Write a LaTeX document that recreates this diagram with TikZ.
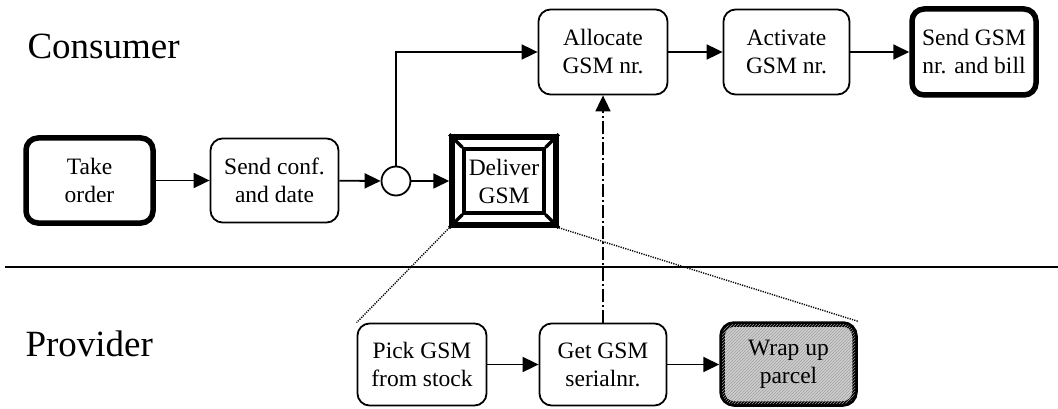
\documentclass[tikz,border=0pt]{standalone}
\usepackage{fontspec}
\setmainfont{Liberation Serif}
\usetikzlibrary{arrows.meta,patterns,positioning}
\begin{document}
\begin{tikzpicture}[x=1pt,y=-1pt,
  task/.style={draw,rounded corners=12pt,line width=1.8pt,align=center,
    font=\fontsize{23.5}{28}\selectfont,inner sep=0pt},
  bold task/.style={task,line width=5.5pt},
  tip/.style={-{Triangle[length=16pt,width=15pt]}},
  flow/.style={line width=1.8pt,tip},
  info/.style={line width=1.8pt,dash pattern=on 13pt off 3pt on 2pt off 3pt,tip},
  zoomline/.style={line width=1.4pt,dash pattern=on 1.2pt off 1.2pt},
  lane/.style={font=\fontsize{37}{40}\selectfont,anchor=west}]
\useasboundingbox (0,0) rectangle (1058,409);

% swimlane titles and separator
\node[lane] (consumer) at (24,46) {Consumer};
\node[lane] (provider) at (22,344) {Provider};
\coordinate (sepL) at (5,267);
\coordinate (sepR) at (1058,267);
\draw[line width=2.6pt] (sepL) -- (sepR);

% consumer lane
\node[bold task,minimum width=127pt,minimum height=85pt] (take) at (89.5,180.5) {Take\\order};
\node[task,minimum width=128pt,minimum height=84pt] (conf) at (274.5,180.5) {Send conf.\\and date};
\node[draw,circle,line width=1.8pt,minimum size=29pt,inner sep=0pt] (split) at (396,181) {};

% composite task with bevelled frame
\node[draw,line width=5.5pt,minimum width=104pt,minimum height=88pt,inner sep=0pt] (deliver) at (504,181) {};
\node[draw,line width=3.2pt,minimum width=80pt,minimum height=64pt,inner sep=0pt,align=center,
  font=\fontsize{23.5}{28}\selectfont] (deliverin) at (504,181) {Deliver\\GSM};
\foreach \c in {north west,north east,south west,south east}
  \draw[line width=3.2pt] (deliver.\c) -- (deliverin.\c);

\node[task,minimum width=129pt,minimum height=85pt] (alloc) at (603,52) {Allocate\\GSM nr.};
\node[task,minimum width=126pt,minimum height=85pt] (activ) at (786.5,52) {Activate\\GSM nr.};
\node[bold task,minimum width=124pt,minimum height=86pt] (bill) at (974,52) {Send GSM\\nr. and bill};

% provider lane
\node[task,minimum width=129pt,minimum height=82pt] (pick) at (422,364.5) {Pick GSM\\from stock};
\node[task,minimum width=127pt,minimum height=82pt] (serial) at (603,364.5) {Get GSM\\serialnr.};
\node[bold task,minimum width=133pt,minimum height=80pt,
  preaction={fill=gray!38},
  postaction={pattern=north east lines,pattern color=gray!75}] (wrap) at (788.5,364) {Wrap up\\parcel};

% sequence flow
\draw[flow] (take) -- (conf);
\draw[flow] (conf) -- (split);
\draw[flow] (split) -- (deliver);
\draw[flow] (split.north) |- (alloc.west);
\draw[flow] (alloc) -- (activ);
\draw[flow] (activ) -- (bill);
\draw[flow] (pick) -- (serial);
\draw[flow] (serial.east) -- (wrap.west |- serial.east);

% information flow
\draw[info] (serial.north) -- (alloc.south);

% expansion of the composite task
\draw[zoomline] (deliver.south west) -- (pick.north west);
\draw[zoomline] (deliver.south east) -- (wrap.north east);
\end{tikzpicture}
\end{document}
